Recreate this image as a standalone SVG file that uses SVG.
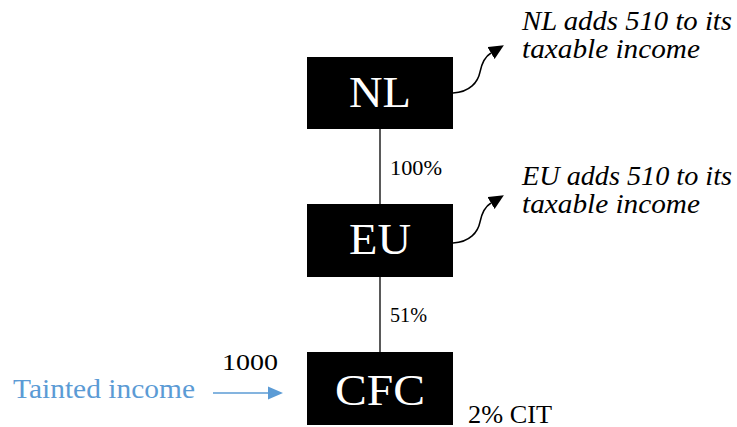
<svg xmlns="http://www.w3.org/2000/svg" width="737" height="427" viewBox="0 0 737 427">
<defs>
<style>
.box{fill:#000}
.bt{font-family:"Liberation Serif",serif;font-size:44px;fill:#fff;text-anchor:middle}
.t{font-family:"Liberation Serif",serif;fill:#000}
.it{font-family:"Liberation Serif",serif;font-style:italic;font-size:28px;fill:#000}
.edge{stroke:#000;stroke-width:1.3;fill:none}
.curve{stroke:#000;stroke-width:1.5;fill:none;marker-end:url(#ah)}
.blue{fill:#5B9BD5}
</style>
<marker id="ah" markerUnits="userSpaceOnUse" markerWidth="16" markerHeight="15" refX="0" refY="7" orient="auto">
<path d="M0,0 L15,7 L0,14 z" fill="#000"/>
</marker>
</defs>
<rect width="737" height="427" fill="#fff"/>
<g id="connectors">
<line class="edge" x1="380" y1="129" x2="380" y2="204"/>
<line class="edge" x1="380" y1="277" x2="380" y2="352"/>
<path class="curve" d="M453,93 C470,92 478,82 480,72 C482,62 485,56.6 491,53"/>
<path class="curve" d="M453,243 C470,242 478,232 480,222 C482,212 485,206.6 491,203"/>
<g id="tainted-arrow">
<line x1="213" y1="393" x2="270" y2="393" stroke="#5B9BD5" stroke-width="1.5"/>
<path class="blue" d="M268,386.5 L283,393 L268,399.5 z"/>
</g>
</g>
<g id="node-nl">
<rect class="box" x="307" y="57" width="146" height="72"/>
<text class="bt" x="380" y="107" textLength="62" lengthAdjust="spacingAndGlyphs">NL</text>
</g>
<g id="node-eu">
<rect class="box" x="307" y="204" width="146" height="73"/>
<text class="bt" x="380" y="254" textLength="62" lengthAdjust="spacingAndGlyphs">EU</text>
</g>
<g id="node-cfc">
<rect class="box" x="307" y="352" width="146" height="73"/>
<text class="bt" x="380" y="405" font-size="45" textLength="90" lengthAdjust="spacingAndGlyphs">CFC</text>
</g>
<g id="labels">
<text class="it" x="522" y="30" textLength="210" lengthAdjust="spacingAndGlyphs">NL adds 510 to its</text>
<text class="it" x="522" y="58" textLength="178" lengthAdjust="spacingAndGlyphs">taxable income</text>
<text class="it" x="522" y="185" textLength="210" lengthAdjust="spacingAndGlyphs">EU adds 510 to its</text>
<text class="it" x="522" y="213" textLength="178" lengthAdjust="spacingAndGlyphs">taxable income</text>
<text class="t" x="390" y="175" font-size="20" textLength="52" lengthAdjust="spacingAndGlyphs">100%</text>
<text class="t" x="390" y="322" font-size="20" textLength="37" lengthAdjust="spacingAndGlyphs">51%</text>
<text class="t" x="222" y="370" font-size="24" textLength="56" lengthAdjust="spacingAndGlyphs">1000</text>
<text class="t" x="468" y="423" font-size="25" textLength="84" lengthAdjust="spacingAndGlyphs">2% CIT</text>
<text class="blue" x="13" y="398" font-family="Liberation Serif, serif" font-size="28" textLength="182" lengthAdjust="spacingAndGlyphs">Tainted income</text>
</g>
</svg>
